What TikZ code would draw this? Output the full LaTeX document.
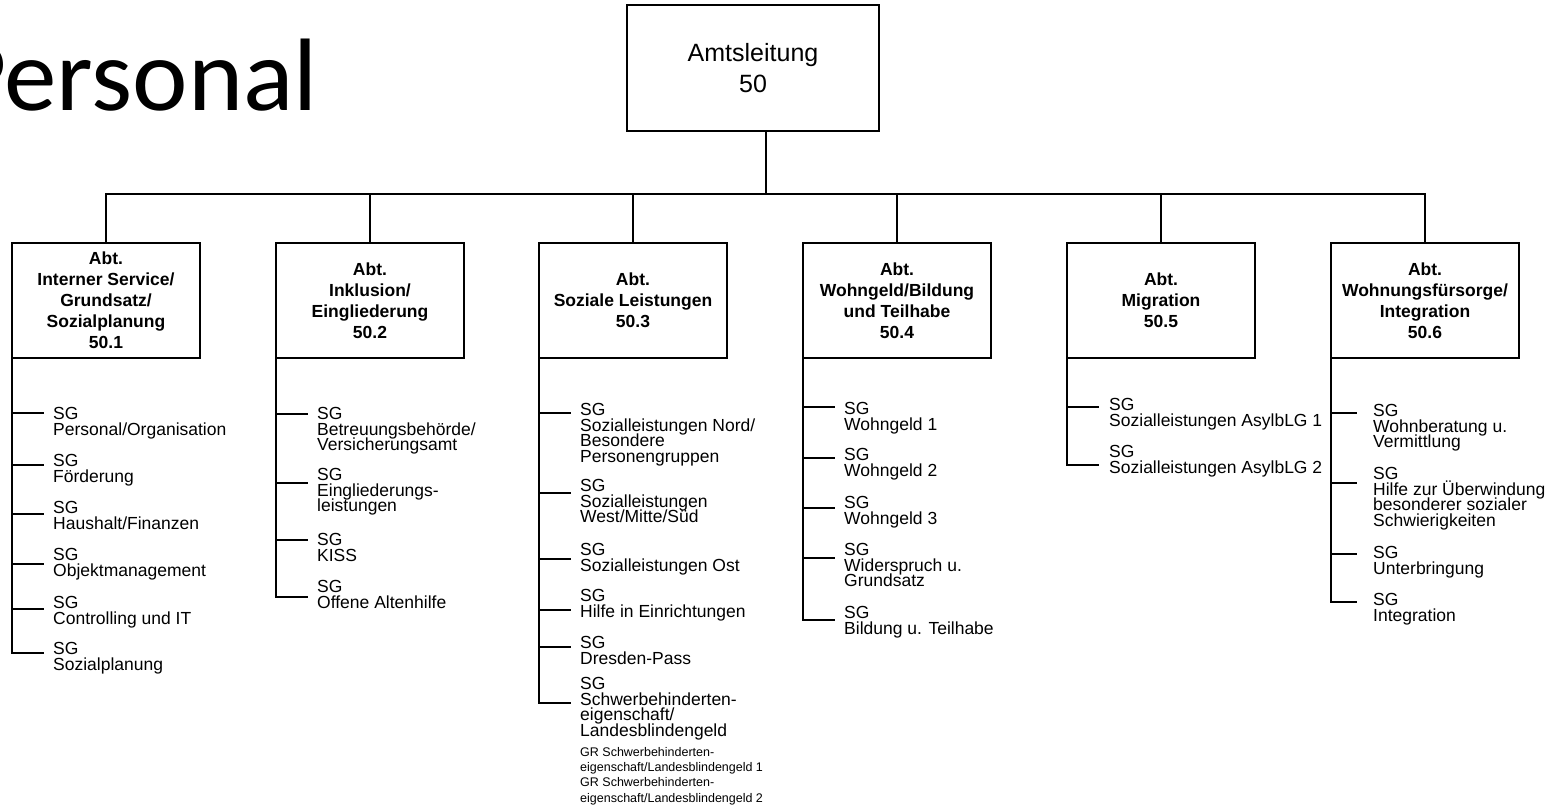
\documentclass[tikz,border=0pt]{standalone}
\usepackage{fontspec}
\setmainfont{Liberation Sans}
\newfontfamily\titlefont{Carlito}
\usepackage{tikz}
\usetikzlibrary{positioning}

\newcommand{\tightlines}{\lineskiplimit=-50pt\lineskip=0pt}

\begin{document}
\begin{tikzpicture}[
    x=1pt, y=-1pt,
    link/.style={line width=1.1pt},
    chief/.style={draw, line width=1.1pt, outer sep=0pt, inner sep=0pt, minimum width=252pt, minimum height=126pt, align=center, font=\fontsize{25}{31}\selectfont},
    abt/.style={draw, line width=1.1pt, outer sep=0pt, inner sep=0pt, minimum width=188pt, minimum height=115pt, align=center, font=\bfseries\fontsize{17.5}{21}\selectfont\tightlines},
    sg/.style={anchor=north west, inner sep=0pt, align=left, font=\fontsize{17.5}{15.6}\selectfont\tightlines},
    gr/.style={anchor=north west, inner sep=0pt, align=left, font=\fontsize{12.5}{15.3}\selectfont\tightlines}
]
\useasboundingbox (0,0) rectangle (1557,809);
\clip (0,0) rectangle (1557,809);

\node[anchor=base west, inner sep=0pt, font=\titlefont\fontsize{103}{103}\selectfont] (title) at (-48,110) {\scalebox{1.02}[1]{Personal}};

% Amtsleitung and departments
\node[chief] (amt) at (753,68) {Amtsleitung\\50};
\node[abt] (b1) at (106,300.5) {Abt.\\Interner Service/\\Grundsatz/\\Sozialplanung\\50.1};
\node[abt] (b2) at (370,300.5) {Abt.\\Inklusion/\\Eingliederung\\50.2};
\node[abt] (b3) at (633,300.5) {Abt.\\Soziale Leistungen\\50.3};
\node[abt] (b4) at (897,300.5) {Abt.\\Wohngeld/Bildung\\und Teilhabe\\50.4};
\node[abt] (b5) at (1161,300.5) {Abt.\\Migration\\50.5};
\node[abt] (b6) at (1425,300.5) {Abt.\\Wohnungsfürsorge/\\Integration\\50.6};

\coordinate (bus) at (766,194);
\draw[link] (amt.south -| bus) -- (bus);
\draw[link] (b1.north) -- (b1.north |- bus) -- (b6.north |- bus) -- (b6.north);
\foreach \b in {b2,b3,b4,b5}
    \draw[link] (\b.north |- bus) -- (\b.north);

% 50.1
\node[sg] (s11) at (53,407) {SG\\Personal/Organisation};
\node[sg] (s12) at (53,454) {SG\\Förderung};
\node[sg] (s13) at (53,501) {SG\\Haushalt/Finanzen};
\node[sg] (s14) at (53,548) {SG\\Objektmanagement};
\node[sg] (s15) at (53,596) {SG\\Controlling und IT};
\node[sg] (s16) at (53,642) {SG\\Sozialplanung};
\coordinate (t11) at (44,413);
\coordinate (t12) at (44,465);
\coordinate (t13) at (44,514);
\coordinate (t14) at (44,564);
\coordinate (t15) at (44,609);
\coordinate (t16) at (44,653);
\draw[link] (b1.south west) |- (t16);
\foreach \t in {t11,t12,t13,t14,t15}
    \draw[link] (b1.south west |- \t) -- (\t);

% 50.2
\node[sg] (s21) at (317,407) {SG\\Betreuungsbehörde/\\Versicherungsamt};
\node[sg] (s22) at (317,468) {SG\\Eingliederungs-\\leistungen};
\node[sg] (s23) at (317,533) {SG\\KISS};
\node[sg] (s24) at (317,580) {SG\\Offene Altenhilfe};
\coordinate (t21) at (308,414);
\coordinate (t22) at (308,483);
\coordinate (t23) at (308,540);
\coordinate (t24) at (308,597);
\draw[link] (b2.south west) |- (t24);
\foreach \t in {t21,t22,t23}
    \draw[link] (b2.south west |- \t) -- (\t);

% 50.3
\node[sg] (s31) at (580,403) {SG\\Sozialleistungen Nord/\\Besondere\\Personengruppen};
\node[sg] (s32) at (580,479) {SG\\Sozialleistungen\\West/Mitte/Süd};
\node[sg] (s33) at (580,543) {SG\\Sozialleistungen Ost};
\node[sg] (s34) at (580,589) {SG\\Hilfe in Einrichtungen};
\node[sg] (s35) at (580,636) {SG\\Dresden-Pass};
\node[sg] (s36) at (580,677) {SG\\Schwerbehinderten-\\eigenschaft/\\Landesblindengeld};
\node[gr] (g36) at (580,747) {GR Schwerbehinderten-\\eigenschaft/Landesblindengeld 1\\GR Schwerbehinderten-\\eigenschaft/Landesblindengeld 2};
\coordinate (t31) at (571,413);
\coordinate (t32) at (571,493);
\coordinate (t33) at (571,559);
\coordinate (t34) at (571,610);
\coordinate (t35) at (571,647);
\coordinate (t36) at (571,703);
\draw[link] (b3.south west) |- (t36);
\foreach \t in {t31,t32,t33,t34,t35}
    \draw[link] (b3.south west |- \t) -- (\t);

% 50.4
\node[sg] (s41) at (844,402) {SG\\Wohngeld 1};
\node[sg] (s42) at (844,448) {SG\\Wohngeld 2};
\node[sg] (s43) at (844,496) {SG\\Wohngeld 3};
\node[sg] (s44) at (844,543) {SG\\Widerspruch u.\\Grundsatz};
\node[sg] (s45) at (844,606) {SG\\Bildung u. Teilhabe};
\coordinate (t41) at (835,407);
\coordinate (t42) at (835,458);
\coordinate (t43) at (835,508);
\coordinate (t44) at (835,558);
\coordinate (t45) at (835,620);
\draw[link] (b4.south west) |- (t45);
\foreach \t in {t41,t42,t43,t44}
    \draw[link] (b4.south west |- \t) -- (\t);

% 50.5
\node[sg] (s51) at (1109,398) {SG\\Sozialleistungen AsylbLG 1};
\node[sg] (s52) at (1109,445) {SG\\Sozialleistungen AsylbLG 2};
\coordinate (t51) at (1099,407);
\coordinate (t52) at (1099,465);
\draw[link] (b5.south west) |- (t52);
\draw[link] (b5.south west |- t51) -- (t51);

% 50.6
\node[sg] (s61) at (1373,404) {SG\\Wohnberatung u.\\Vermittlung};
\node[sg] (s62) at (1373,467) {SG\\Hilfe zur Überwindung\\besonderer sozialer\\Schwierigkeiten};
\node[sg] (s63) at (1373,546) {SG\\Unterbringung};
\node[sg] (s64) at (1373,593) {SG\\Integration};
\coordinate (t61) at (1357,413);
\coordinate (t62) at (1357,483);
\coordinate (t63) at (1357,554);
\coordinate (t64) at (1357,602);
\draw[link] (b6.south west) |- (t64);
\foreach \t in {t61,t62,t63}
    \draw[link] (b6.south west |- \t) -- (\t);
\end{tikzpicture}
\end{document}
